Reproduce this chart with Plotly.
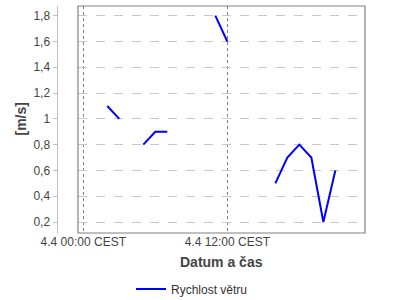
import plotly.graph_objects as go
import pandas as pd

# Data: hourly wind speed on 4.4 (None = missing)
hours = list(range(24))
speeds = [None, None, 1.1, 1.0, None, 0.8, 0.9, 0.9, None, None, None, 1.8,
          1.6, None, None, None, 0.5, 0.7, 0.8, 0.7, 0.2, 0.6, None, None]
day = pd.Timestamp("2023-04-04")
times = [day + pd.Timedelta(hours=h) for h in hours]

tick_vals = [day, day + pd.Timedelta(hours=12)]
tick_text = ["4.4 00:00 CEST", "4.4 12:00 CEST"]
series_name = "Rychlost větru"
x_title = "Datum a čas"
y_title = "[m/s]"

W, H = 400, 300
ml, mr, mt, mb = 0, 35, 6, 67
pw = W - ml - mr
ph = H - mt - mb

fig = go.Figure()
fig.add_trace(go.Scatter(
    x=times, y=speeds, mode="lines", name=series_name,
    line=dict(color="#0000ff", width=2), connectgaps=False,
    showlegend=True,
))

font = "Liberation Sans, Arial, sans-serif"
fig.update_layout(
    width=W, height=H,
    margin=dict(l=ml, r=mr, t=mt, b=mb, autoexpand=False),
    paper_bgcolor="white", plot_bgcolor="white",
    separators=", ",
    font=dict(family=font, size=12, color="#444444"),
    showlegend=True,
    legend=dict(orientation="h", x=192 / pw, xanchor="center",
                y=-(289 - (mt + ph)) / ph, yanchor="middle",
                font=dict(size=12, color="#333333"),
                itemwidth=30, bgcolor="rgba(0,0,0,0)"),
    xaxis=dict(
        type="date", domain=[78 / pw, 1], automargin=False,
        range=[day - pd.Timedelta(hours=0.44), day + pd.Timedelta(hours=23.47)],
        tickvals=tick_vals, ticktext=tick_text, ticks="",
        showgrid=True, gridcolor="#808080", griddash="dot", gridwidth=1,
        showline=False, zeroline=False,
        tickfont=dict(size=12, color="#444444"),
        anchor="y",
    ),
    yaxis=dict(
        range=[0.115, 1.875], tick0=0.2, dtick=0.2, automargin=False,
        anchor="free", position=56.5 / pw,
        showline=True, linecolor="#c0c0c0", linewidth=1,
        ticks="outside", ticklen=4, tickcolor="#c0c0c0",
        showgrid=True, gridcolor="#c8c8c8", griddash="dash", gridwidth=1,
        zeroline=False, tickfont=dict(size=12, color="#444444"),
    ),
    shapes=[dict(type="rect", xref="x domain", yref="y domain",
                 x0=0, x1=1, y0=0, y1=1,
                 line=dict(color="#808080", width=1.2), layer="above")],
    annotations=[
        dict(text=f"<b>{x_title}</b>", xref="paper", yref="paper",
             x=221.5 / pw, y=-(262 - (mt + ph)) / ph, xanchor="center",
             yanchor="middle", showarrow=False,
             font=dict(size=14, color="#444444", family=font)),
        dict(text=f"<b>{y_title}</b>", xref="paper", yref="paper",
             x=20 / pw, y=0.5, xanchor="center", yanchor="middle",
             textangle=-90, showarrow=False,
             font=dict(size=14, color="#444444", family=font)),
    ],
)

fig.write_html("out.html")
